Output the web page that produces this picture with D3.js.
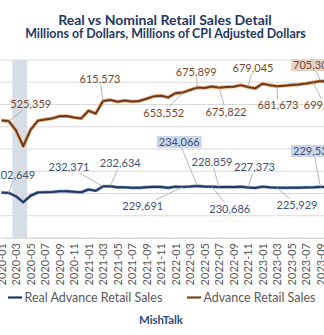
<!DOCTYPE html>
<html><head><meta charset="utf-8">
<script src="https://cdn.jsdelivr.net/npm/d3@7"></script>
<style>body{margin:0;background:#fff}svg{display:block}text{font-family:Lato,"Open Sans",sans-serif}</style>
</head><body><svg id="c" width="324" height="335"></svg>
<script>
// ---------- DATA ----------
const months = ["2020-01","2020-02","2020-03","2020-04","2020-05","2020-06","2020-07","2020-08","2020-09","2020-10","2020-11","2020-12",
"2021-01","2021-02","2021-03","2021-04","2021-05","2021-06","2021-07","2021-08","2021-09","2021-10","2021-11","2021-12",
"2022-01","2022-02","2022-03","2022-04","2022-05","2022-06","2022-07","2022-08","2022-09","2022-10","2022-11","2022-12",
"2023-01","2023-02","2023-03","2023-04","2023-05","2023-06","2023-07","2023-08","2023-09","2023-10"];
const nominal = [528500,525359,483500,412500,486000,526500,533000,537500,547000,548000,541500,537500,
572000,559000,615573,620668,612000,618000,613500,616000,626000,636500,639500,632000,
651000,653552,665500,675899,674000,681226,675822,679000,679500,687000,679045,672500,
693500,687000,681673,684500,687500,689500,694000,699420,705305,704000];
const real = [204300,202649,187300,160900,189800,204500,205900,206800,210100,210400,207600,205500,
218200,212300,232371,232634,227800,228000,225300,225600,228300,230100,229600,225600,
230900,229691,231300,234066,231200,230686,228859,229400,228900,230500,227373,225100,
230900,227800,225929,225700,226200,226400,227200,227800,229530,228900];
const recessionMonths = ["2020-03","2020-04"];
const yTicks = [0,100000,200000,300000,400000,500000,600000,700000,800000];
const tickMonths = months.filter((m,i)=>i%2===0);
const nominalLabelMonths = ["2020-02","2021-03","2022-02","2022-04","2022-07","2022-11","2023-03","2023-08","2023-09"];
const realLabelMonths = ["2020-02","2021-03","2021-04","2022-02","2022-04","2022-06","2022-07","2022-11","2023-03","2023-09"];
const highlightedNominal = ["2023-09"];
const highlightedReal = ["2022-04","2023-09"];
const seriesNames = ["Real Advance Retail Sales","Advance Retail Sales"];
const titleText = "Real vs Nominal Retail Sales Detail";
const subtitleText = "Millions of Dollars, Millions of CPI Adjusted Dollars";
const sourceText = "MishTalk";

// ---------- LAYOUT (label offsets from their points) ----------
const labelOffsets = {
 "n2020-02":[22,-17],"n2021-03":[-3,-22],"n2022-02":[-19,20],"n2022-04":[-1,-16],"n2022-07":[7,24],
 "n2022-11":[5,-19],"n2023-08":[11,23],"n2023-03":[1,19],"n2023-09":[-7,-16],
 "r2020-02":[6,-18],"r2021-03":[-34,-19],"r2021-04":[10,-23],"r2022-02":[-40,19],"r2022-04":[-18,-44],
 "r2022-06":[18,22],"r2022-07":[-7,-25],"r2022-11":[6.5,-20],"r2023-03":[20,17],"r2023-09":[-7,-36]
};

const W=324,H=335;
const svg=d3.select("#c");
const x=d3.scalePoint().domain(months).range([1.5,1.5+7.25*(months.length-1)]);
const step=x.step();
const y=d3.scaleLinear().domain([0,800000]).range([238,60]);

// gridlines
svg.append("g").selectAll("line").data(yTicks).join("line")
 .attr("x1",0).attr("x2",W).attr("y1",d=>y(d)).attr("y2",d=>y(d))
 .attr("stroke","#dadada").attr("stroke-width",1);

// recession band
svg.append("g").selectAll("rect").data(recessionMonths).join("rect")
 .attr("x",d=>x(d)-step/2).attr("width",step+0.2)
 .attr("y",y(800000)).attr("height",y(0)-y(800000)).attr("fill","#d7dde5");

// x axis
const ax=svg.append("g").attr("transform",`translate(0,${y(0)})`)
 .call(d3.axisBottom(x).tickValues(tickMonths).tickSize(0));
ax.select(".domain").attr("stroke","#d9d9d9");
ax.selectAll("text").attr("transform","rotate(-90)").attr("x",-5).attr("y",0).attr("dy","0.36em")
 .style("text-anchor","end").attr("fill","#595959").attr("font-size",11).attr("font-family","Lato");

// lines
const line=d3.line().x((d,i)=>x(months[i])).y(d=>y(d));
svg.append("path").datum(nominal).attr("d",line).attr("fill","none").attr("stroke","#eaa878").attr("stroke-width",3.6).attr("stroke-linejoin","round");
svg.append("path").datum(nominal).attr("d",line).attr("fill","none").attr("stroke","#6a3a1c").attr("stroke-width",2).attr("stroke-linejoin","round");
svg.append("path").datum(real).attr("d",line).attr("fill","none").attr("stroke","#8ea3c8").attr("stroke-width",3.2).attr("stroke-linejoin","round");
svg.append("path").datum(real).attr("d",line).attr("fill","none").attr("stroke","#1f3864").attr("stroke-width",2).attr("stroke-linejoin","round");

// data labels
const fmt=d3.format(",");
const labels=[];
nominalLabelMonths.forEach(m=>labels.push({key:"n"+m,m,v:nominal[months.indexOf(m)],hl:highlightedNominal.includes(m),col:"#74492f",fill:"#e7d2c5"}));
realLabelMonths.forEach(m=>labels.push({key:"r"+m,m,v:real[months.indexOf(m)],hl:highlightedReal.includes(m),col:"#3f5170",fill:"#cbd6e8"}));
const lg=svg.append("g");
labels.forEach(L=>{
 const px=x(L.m),py=y(L.v),o=labelOffsets[L.key];
 const cx=px+o[0],cy=py+o[1];
 const g=lg.append("g");
 const t=g.append("text").attr("x",cx).attr("y",cy).attr("dy","0.36em").attr("text-anchor","middle")
  .attr("font-size",11).attr("fill",L.col).text(fmt(L.v));
 const w=t.node().getComputedTextLength(),h=12;
 if(L.hl){g.insert("rect","text").attr("x",cx-w/2-2).attr("y",cy-h/2).attr("width",w+4).attr("height",h).attr("fill",L.fill);}
 const dx=px-cx,dy=py-cy;
 const hw=w/2+(L.hl?2:1),hh=h/2;
 const tt=Math.min(Math.abs(dx)>0?hw/Math.abs(dx):1e9,Math.abs(dy)>0?hh/Math.abs(dy):1e9);
 if(tt<1){
  g.append("line").attr("x1",cx+dx*tt).attr("y1",cy+dy*tt).attr("x2",px).attr("y2",py)
   .attr("stroke","#a6a6a6").attr("stroke-width",0.8);
 }
});

function fit(sel,target){const w=sel.node().getComputedTextLength();sel.attr("font-size",parseFloat(sel.attr("font-size"))*target/w);}
// titles
const t1=svg.append("text").attr("x",165).attr("y",24.5).attr("text-anchor","middle").attr("font-weight","bold").attr("font-size",15).attr("fill","#1f3864").text(titleText);
fit(t1,214);
const t2=svg.append("text").attr("x",165.5).attr("y",38).attr("text-anchor","middle").attr("font-weight","bold").attr("font-size",12).attr("fill","#1f3864").text(subtitleText);
fit(t2,281);

// legend
const legCols=["#1f3864","#7a4520"];
const legX=[8,187];
seriesNames.forEach((n,i)=>{
 svg.append("line").attr("x1",legX[i]).attr("x2",legX[i]+14).attr("y1",297.5).attr("y2",297.5).attr("stroke",legCols[i]).attr("stroke-width",2.2);
 const t=svg.append("text").attr("x",legX[i]+16.5).attr("y",301.8).attr("font-size",13).attr("fill","#595959").text(n);
 if(i===0) fit(t,138); else t.attr("font-size",svg.select("text:last-of-type").attr("font-size"));
});
const legSize=svg.selectAll("text").filter(function(){return d3.select(this).text()===seriesNames[0];}).attr("font-size");
svg.selectAll("text").filter(function(){return d3.select(this).text()===seriesNames[1];}).attr("font-size",legSize);

const t3=svg.append("text").attr("x",161).attr("y",324).attr("text-anchor","middle").attr("font-weight","bold").attr("font-size",10).attr("fill","#2f4a80").text(sourceText);
fit(t3,44);
</script></body></html>
